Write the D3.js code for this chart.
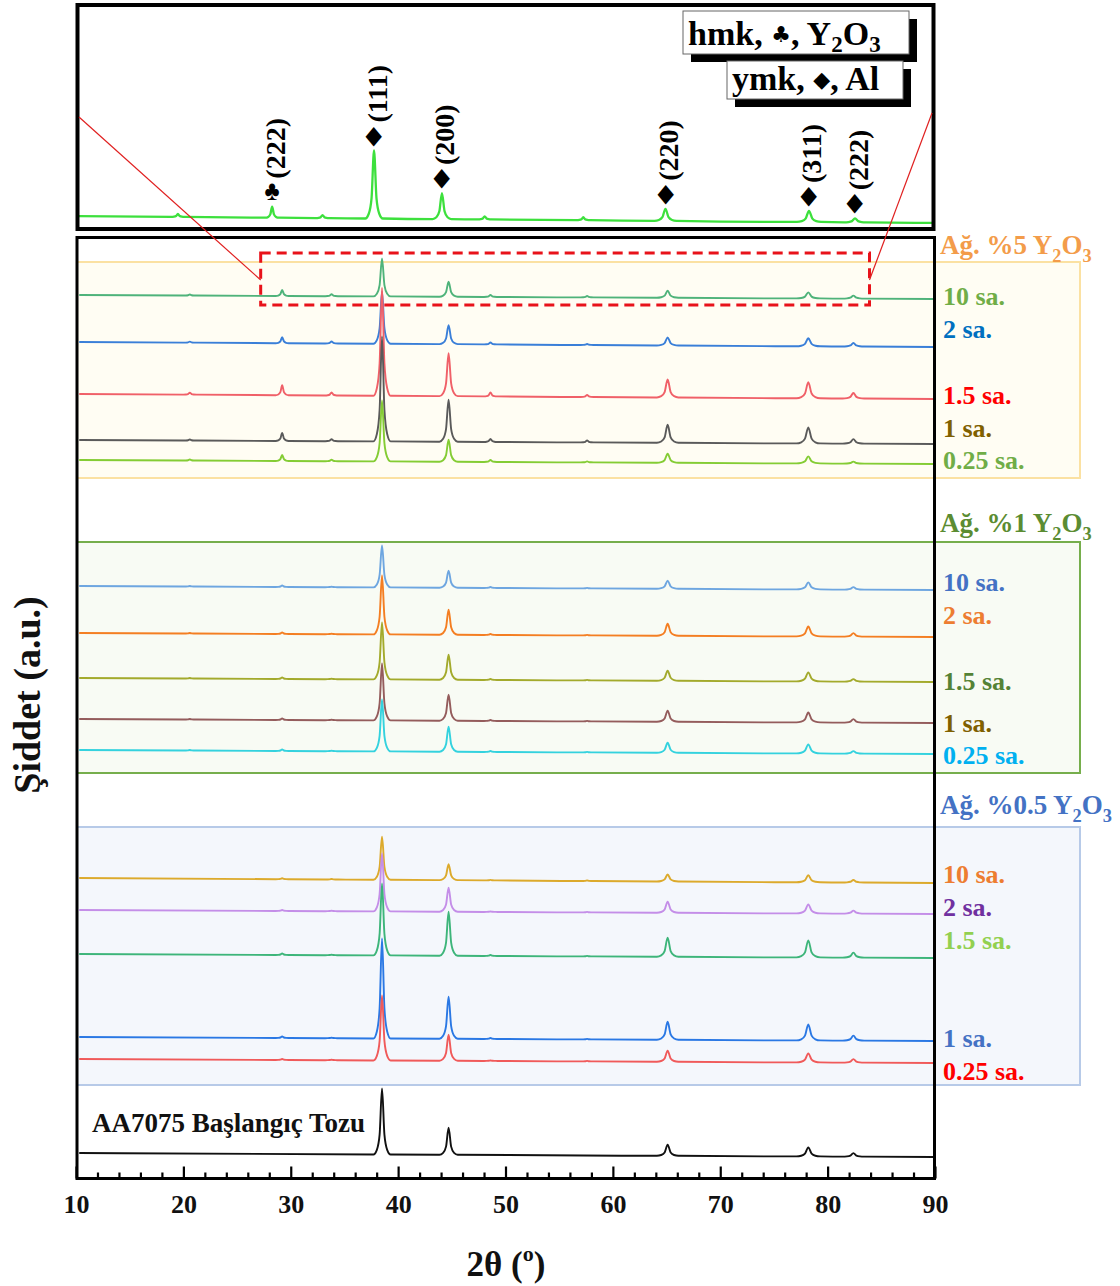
<!DOCTYPE html>
<html>
<head>
<meta charset="utf-8">
<script src="https://cdn.jsdelivr.net/npm/d3@7"></script>
<style>
  body { margin: 0; background: #fff; }
  svg { display: block; }
  text { font-family: "Liberation Serif", "Times New Roman", serif; font-weight: bold; }
</style>
</head>
<body>
<svg id="chart" width="1120" height="1286"></svg>
<script>
// ---------------- data ----------------
// reflection positions (2θ, degrees) shared by all patterns
const peakPositions  = [20.6, 29.2, 33.8, 38.5, 44.7, 48.6, 57.6, 65.1, 78.2, 82.4];
// half base width of each reflection (degrees)
const peakHalfWidths = [0.6, 0.6, 0.6, 0.8, 0.85, 0.6, 0.6, 1.0, 1.1, 1.0];

const millTimes = ["10 sa.", "2 sa.", "1.5 sa.", "1 sa.", "0.25 sa."];

// background [at 10°, at 90°] and peak heights above background (a.u.) — 5 wt.% Y2O3
const bg5 = [[885, 881], [838, 833], [786, 781], [740, 736], [720, 716]];
const peaks5 = [
  [1, 6, 2, 38, 15, 2, 1.5, 7, 6, 3],
  [1, 6, 2, 52, 19, 2, 1, 8, 8, 3.5],
  [2, 10, 3, 108, 43, 4, 2, 18, 16, 5.5],
  [1, 8, 2, 105, 42, 3, 2, 18, 16, 4.5],
  [1, 6, 1.5, 61, 22, 2, 1, 9, 7, 2]
];
// 1 wt.% Y2O3
const bg1 = [[594, 590], [547, 543], [502, 498], [461, 457], [430, 426]];
const peaks1 = [
  [0.5, 1.5, 0.5, 42, 17, 1, 0.5, 8, 7, 2.5],
  [0.5, 1.5, 0.5, 59, 25, 1, 0.5, 12, 10, 3.5],
  [0.5, 1.5, 0.5, 57, 25, 1, 0.5, 10, 9, 2.5],
  [0.5, 1.5, 0.5, 57, 26, 1, 0.5, 11, 10, 3.5],
  [0.5, 1.5, 0.5, 52, 25, 1, 0.5, 10, 9, 2.5]
];
// 0.5 wt.% Y2O3
const bg05 = [[302, 297], [270, 266], [226, 222], [143, 139], [121, 117]];
const peaks05 = [
  [0, 1, 0.5, 43, 16, 0.5, 0.5, 7, 7, 2.5],
  [0, 1, 0.5, 58, 24, 0.5, 0.5, 11, 9, 3],
  [0, 1.5, 0.5, 72, 44, 1, 0.5, 19, 17, 5],
  [0, 1.5, 0.5, 100, 42, 1, 0.5, 18, 16, 5],
  [0, 1, 0.5, 65, 26, 0.5, 0.5, 11, 9, 3.5]
];
// as-received AA7075 powder
const bgBase = [27, 23];
const peaksBase = [0, 0, 0, 66, 27, 0, 0, 11, 9, 3.5];

// enlarged view of the 5 wt.% / 10 h pattern
const bgInset = [14, 7];
const peaksInset = [3, 11, 3, 68, 26, 3, 3, 12, 11, 4];

// indexed reflections marked in the enlarged view
const insetMarks = [
  { pos: 29.2, sym: "♣", hkl: "(222)" },
  { pos: 38.5, sym: "◆", hkl: "(111)" },
  { pos: 44.7, sym: "◆", hkl: "(200)" },
  { pos: 65.1, sym: "◆", hkl: "(220)" },
  { pos: 78.2, sym: "◆", hkl: "(311)" },
  { pos: 82.4, sym: "◆", hkl: "(222)" }
];

const majorTicks = [10, 20, 30, 40, 50, 60, 70, 80, 90];
const minorTicks = d3.range(12, 90, 2).filter(v => v % 10 !== 0);

// ---------------- styles ----------------
const lineColors5  = ["#4fb37a", "#3a7fd8", "#f06068", "#5a5a5a", "#84cc34"];
const labelColors5 = ["#70ad47", "#0070c0", "#ff0000", "#806000", "#70ad47"];
const lineColors1  = ["#6ea6e0", "#f47e22", "#a3aa2c", "#945c5c", "#34d2de"];
const labelColors1 = ["#4472c4", "#ed7d31", "#548235", "#7f6000", "#00b0f0"];
const lineColors05  = ["#dcaa2c", "#c48ee8", "#3db57a", "#2a78e4", "#f05a5a"];
const labelColors05 = ["#ed7d31", "#7030a0", "#92d050", "#4472c4", "#ff0000"];

// ---------------- layout ----------------
const svg = d3.select("#chart");
const x = d3.scaleLinear().domain([10, 90]).range([76, 935]);
const y = d3.scaleLinear().domain([0, 944]).range([1180, 236]);
const xIn = d3.scaleLinear().domain([11.3, 89.7]).range([76, 935]);
const yIn = d3.scaleLinear().domain([0, 225]).range([230, 5]);

// label offsets (px) from each pattern's right end
const nudge5 = [6, -9, 5, -7, 5];
const nudge1 = [1, -13, 8, 9, 10];
const nudge05 = [0, 2, -9, 6, 17];

const groups = [
  { name: ["Ağ. %5 Y", "2", "O", "3"], color: "#f39c4a", bg: bg5, peaks: peaks5,
    lines: lineColors5, labels: labelColors5, nudge: nudge5, titleGap: 8,
    band: [918, 702], fill: "#fffdf3", stroke: "#fbe1a2" },
  { name: ["Ağ. %1 Y", "2", "O", "3"], color: "#5b8c32", bg: bg1, peaks: peaks1,
    lines: lineColors1, labels: labelColors1, nudge: nudge1, titleGap: 10,
    band: [638, 407], fill: "#f8fbf4", stroke: "#76ae4c" },
  { name: ["Ağ. %0.5 Y", "2", "O", "3"], color: "#4472c4", bg: bg05, peaks: peaks05,
    lines: lineColors05, labels: labelColors05, nudge: nudge05, titleGap: 13,
    band: [353, 95], fill: "#f4f7fc", stroke: "#b7cae8" }
];

// peak profile template: offsets in half-widths and fraction of peak height
const shapeOffsets = [-1, -0.6, -0.28, 0, 0.28, 0.6, 1];
const shapeFrac = [0, 0.07, 0.3, 1, 0.3, 0.07, 0];

function patternPoints(bg, heights, start, end) {
  const bgAt = t => bg[0] + (bg[1] - bg[0]) * (t - 10) / 80;
  const pts = [[start, bgAt(start)]];
  peakPositions.forEach((p, i) => {
    const h = heights[i];
    if (!h) return;
    const w = peakHalfWidths[i], b = bgAt(p);
    shapeOffsets.forEach((o, k) => pts.push([p + o * w, b + h * shapeFrac[k]]));
  });
  pts.push([end, bgAt(end)]);
  return pts;
}

const line = d3.line().x(d => x(d[0])).y(d => y(d[1])).curve(d3.curveMonotoneX);
const lineIn = d3.line().x(d => xIn(d[0])).y(d => yIn(d[1])).curve(d3.curveMonotoneX);

function formula(sel, parts, size) {
  parts.forEach((p, i) => {
    const sub = i % 2 === 1;
    sel.append("tspan")
      .attr("font-size", sub ? size * 0.68 : size)
      .attr("dy", sub ? size * 0.28 : (i > 0 ? -size * 0.28 : 0))
      .text(p);
  });
}

// ---------------- group panels ----------------
groups.forEach(g => {
  svg.append("rect")
    .attr("x", 77).attr("y", y(g.band[0]))
    .attr("width", 1080 - 77).attr("height", y(g.band[1]) - y(g.band[0]))
    .attr("fill", g.fill).attr("stroke", g.stroke).attr("stroke-width", 2);
  const t = svg.append("text")
    .attr("x", 940).attr("y", y(g.band[0]) - g.titleGap)
    .attr("fill", g.color);
  formula(t, g.name, 27);
});

// ---------------- patterns ----------------
const plot = svg.append("g");
groups.forEach(g => {
  g.bg.forEach((bg, i) => {
    plot.append("path")
      .attr("d", line(patternPoints(bg, g.peaks[i], 10.3, 89.9)))
      .attr("fill", "none").attr("stroke", g.lines[i]).attr("stroke-width", 1.9);
    svg.append("text")
      .attr("x", 943).attr("y", y(bg[1]) + g.nudge[i])
      .attr("font-size", 26).attr("fill", g.labels[i])
      .text(millTimes[i]);
  });
});
plot.append("path")
  .attr("d", line(patternPoints(bgBase, peaksBase, 10.3, 89.9)))
  .attr("fill", "none").attr("stroke", "#111").attr("stroke-width", 1.9);
svg.append("text").attr("x", 92).attr("y", 1132).attr("font-size", 27)
  .attr("fill", "#111").text("AA7075 Başlangıç Tozu");

// zoomed region marker
svg.append("rect")
  .attr("x", x(27.2)).attr("y", y(927))
  .attr("width", x(83.9) - x(27.2)).attr("height", y(875) - y(927))
  .attr("fill", "none").attr("stroke", "#e8121a").attr("stroke-width", 3)
  .attr("stroke-dasharray", "10,6");

// ---------------- main frame & axis ----------------
svg.append("path")
  .attr("d", `M77,1180 V237.5 H934.5 V1180`)
  .attr("fill", "none").attr("stroke", "#000").attr("stroke-width", 3);

const axisG = svg.append("g").attr("transform", "translate(0,1178.5)");
axisG.append("g")
  .call(d3.axisBottom(x).tickValues(minorTicks).tickSize(-6).tickFormat(""))
  .call(a => a.select(".domain").remove())
  .call(a => a.selectAll("line").attr("stroke-width", 2.2));
axisG.append("g")
  .call(d3.axisBottom(x).tickValues(majorTicks).tickSize(-12).tickPadding(16))
  .call(a => a.select(".domain").remove())
  .call(a => a.selectAll("line").attr("stroke-width", 2.2))
  .call(a => a.selectAll("text")
    .attr("font-size", 26).attr("fill", "#111")
    .attr("font-family", "'Liberation Serif', serif").attr("font-weight", "bold"));
axisG.append("line").attr("x1", 76).attr("x2", 936).attr("stroke", "#000").attr("stroke-width", 3);

// axis titles
const xt = svg.append("text").attr("x", 506).attr("y", 1276)
  .attr("text-anchor", "middle").attr("font-size", 35).attr("fill", "#111");
xt.append("tspan").text("2θ (");
xt.append("tspan").attr("font-size", 22).attr("dy", -15).text("o");
xt.append("tspan").attr("dy", 15).text(")");

svg.append("text")
  .attr("transform", "translate(40,695) rotate(-90)")
  .attr("text-anchor", "middle").attr("font-size", 38).attr("fill", "#111")
  .text("Şiddet (a.u.)");

// ---------------- enlarged view ----------------
const inset = svg.append("g");
inset.append("rect").attr("x", 77.5).attr("y", 5).attr("width", 856).attr("height", 224)
  .attr("fill", "#fff");
inset.append("path")
  .attr("d", lineIn(patternPoints(bgInset, peaksInset, 11.5, 89.5)))
  .attr("fill", "none").attr("stroke", "#3de03d").attr("stroke-width", 2.3);

insetMarks.forEach(m => {
  const i = peakPositions.indexOf(m.pos);
  const bgAt = bgInset[0] + (bgInset[1] - bgInset[0]) * (m.pos - 10) / 80;
  const top = yIn(bgAt + peaksInset[i]);
  const cx = xIn(m.pos);
  const sy = top - 16;
  inset.append("text")
    .attr("x", cx).attr("y", sy).attr("text-anchor", "middle")
    .attr("dominant-baseline", "central")
    .attr("font-family", "'DejaVu Sans', sans-serif")
    .attr("font-size", m.sym === "♣" ? 23 : 20).attr("fill", "#000")
    .attr("transform", `translate(${cx},${sy}) scale(1,1.2) translate(${-cx},${-sy})`)
    .text(m.sym);
  inset.append("text")
    .attr("transform", `translate(${cx + 3},${sy - 12}) rotate(-90)`)
    .attr("dominant-baseline", "central")
    .attr("font-size", 28).attr("fill", "#000")
    .text(m.hkl);
});

// phase legend
function legendBox(bx, by, bw, bh, parts) {
  inset.append("rect").attr("x", bx + 8).attr("y", by + 8).attr("width", bw).attr("height", bh).attr("fill", "#000");
  inset.append("rect").attr("x", bx).attr("y", by).attr("width", bw).attr("height", bh)
    .attr("fill", "#fff").attr("stroke", "#666").attr("stroke-width", 1);
  const t = inset.append("text").attr("x", bx + 5).attr("y", by + bh - 9).attr("font-size", 34).attr("fill", "#000");
  parts.forEach(p => {
    const ts = t.append("tspan").text(p.t);
    if (p.sym) ts.attr("font-family", "'DejaVu Sans', sans-serif").attr("font-size", 22).attr("dy", -3);
    if (p.after) ts.attr("dy", 3);
    if (p.sub) ts.attr("font-size", 23).attr("dy", 7);
    if (p.unsub) ts.attr("dy", -7);
  });
}
legendBox(683, 11, 226, 43, [
  { t: "hmk, " }, { t: "♣", sym: true }, { t: ", Y", after: true },
  { t: "2", sub: true }, { t: "O", unsub: true }, { t: "3", sub: true }
]);
legendBox(727, 61, 176, 38, [
  { t: "ymk, " }, { t: "◆", sym: true }, { t: ", Al", after: true }
]);

inset.append("rect").attr("x", 77.5).attr("y", 5).attr("width", 856).attr("height", 224)
  .attr("fill", "none").attr("stroke", "#000").attr("stroke-width", 4);

// connectors from enlarged view to marked region
const conn = svg.append("g").attr("stroke", "#e02020").attr("stroke-width", 1.2);
conn.append("line").attr("x1", 79).attr("y1", yIn(113)).attr("x2", x(27.2)).attr("y2", y(900));
conn.append("line").attr("x1", 932).attr("y1", yIn(117)).attr("x2", x(83.9)).attr("y2", y(900));
</script>
</body>
</html>
